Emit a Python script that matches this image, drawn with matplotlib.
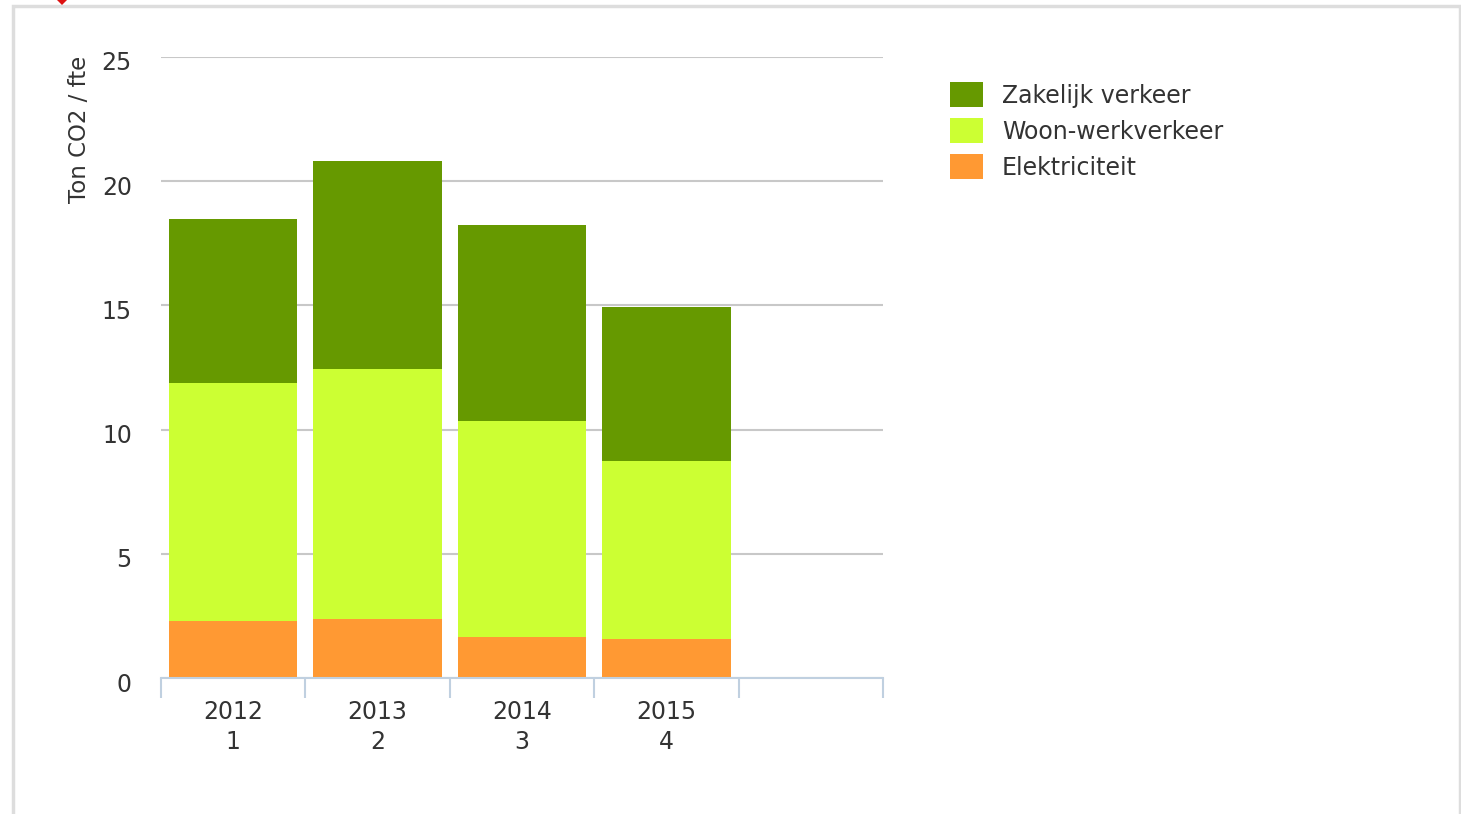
import matplotlib
matplotlib.use("Agg")
import matplotlib.pyplot as plt
from matplotlib.patches import Rectangle, Polygon
import matplotlib.transforms as mtransforms
import numpy as np

categories = ["2012\n1", "2013\n2", "2014\n3", "2015\n4", ""]
elektriciteit = [2.29, 2.38, 1.65, 1.57]
woon_werk = [9.59, 10.06, 8.70, 7.17]
zakelijk = [6.60, 8.37, 7.89, 6.20]
series_names = ["Zakelijk verkeer", "Woon-werkverkeer", "Elektriciteit"]
colors = ["#669900", "#CCFF33", "#FF9933"]
yticks = [0, 5, 10, 15, 20, 25]

W, H = 1461, 814
fig = plt.figure(figsize=(W / 100, H / 100), dpi=100)
plt.rcParams['font.family'] = ['DejaVu Sans']
FS = 17

# outer frame
fig.patches.append(Rectangle((12.5 / W, -0.05), (1460 - 12.5) / W, (H - 5.5) / H + 0.05,
                             transform=fig.transFigure, fill=False,
                             edgecolor="#dddddd", linewidth=2.5))
fig.patches.append(Polygon([(57 / W, 1.0), (62 / W, 1 - 5 / H), (67 / W, 1.0), (62 / W, 1 + 5 / H)],
                           closed=True, transform=fig.transFigure, facecolor="#dd1111",
                           edgecolor="none"))

ax_l, ax_r, ax_t, ax_b = 161, 883, 57, 678
ax = fig.add_axes([ax_l / W, 1 - ax_b / H, (ax_r - ax_l) / W, (ax_b - ax_t) / H])

n = len(elektriciteit)
x = np.arange(n)
bw = 0.89
b1 = np.array(elektriciteit)
b2 = b1 + np.array(woon_werk)
ax.bar(x, elektriciteit, width=bw, color=colors[2], zorder=3)
ax.bar(x, woon_werk, width=bw, bottom=b1, color=colors[1], zorder=3)
ax.bar(x, zakelijk, width=bw, bottom=b2, color=colors[0], zorder=3)

ax.set_xlim(-0.5, len(categories) - 0.5)
ax.set_ylim(0, 25)
ax.set_yticks(yticks)
ax.set_yticklabels([str(v) for v in yticks], fontsize=FS, color="#333333")
ax.yaxis.grid(True, color="#c8c8c8", linewidth=1.5, zorder=0)
ax.tick_params(axis="y", length=0, pad=21)
off = mtransforms.ScaledTranslation(0, -4 / 100, fig.dpi_scale_trans)
for lbl in ax.get_yticklabels():
    lbl.set_transform(lbl.get_transform() + off)

ax.set_xticks(np.arange(len(categories)))
ax.set_xticklabels(categories, fontsize=FS, color="#333333", linespacing=1.3)
ax.tick_params(axis="x", length=0, pad=16)
# boundary tick marks
ax.set_xticks(np.arange(len(categories) + 1) - 0.5, minor=True)
ax.tick_params(axis="x", which="minor", length=14.5, width=1.5, color="#c0d0e0")

for s in ["top", "right", "left"]:
    ax.spines[s].set_visible(False)
ax.spines["bottom"].set_color("#c0d0e0")
ax.spines["bottom"].set_linewidth(1.5)
ax.spines["bottom"].set_zorder(4)

fig.text(80 / W, 1 - 129 / H, "Ton CO2 / fte", rotation=90, ha="center", va="center",
         fontsize=16.5, color="#333333")

# legend
leg_y = [94, 130, 166]
for name, c, yy in zip(series_names, colors, leg_y):
    fig.patches.append(Rectangle((950 / W, 1 - (yy + 12.5) / H), 33 / W, 25 / H,
                                 transform=fig.transFigure, facecolor=c, edgecolor="none"))
    fig.text(1002 / W, 1 - (yy + 2) / H, name, ha="left", va="center", fontsize=FS, color="#333333")

fig.savefig("out.png", dpi=100, facecolor="white")
